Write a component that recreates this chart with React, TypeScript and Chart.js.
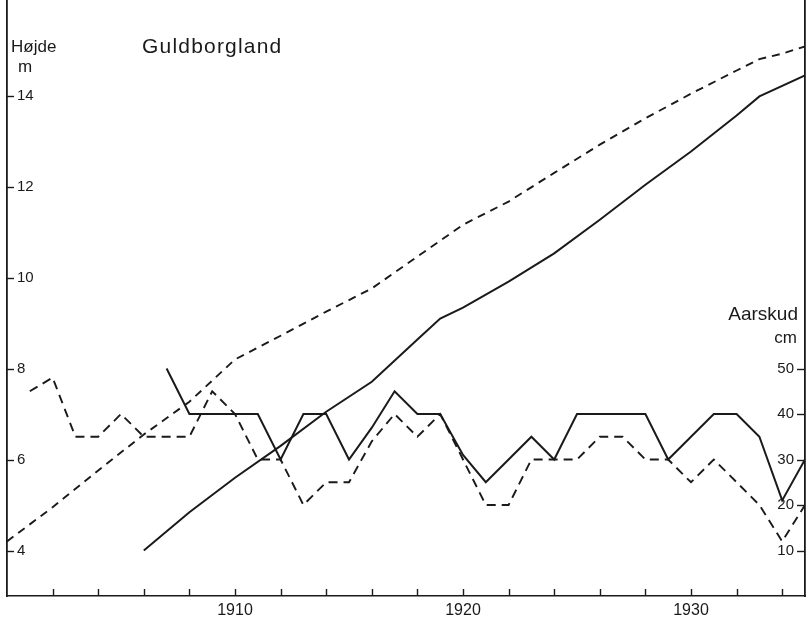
import React, { useEffect, useRef } from "react";
import { Chart, registerables } from "chart.js";

Chart.register(...registerables);

// ---- data ----
const heightDashedYears = [1900, 1902, 1904, 1906, 1908, 1910, 1912, 1914, 1916, 1918, 1920, 1922, 1924, 1926, 1928, 1930, 1932, 1933, 1934, 1935];
const heightDashedValues = [4.2, 4.95, 5.76, 6.55, 7.27, 8.2, 8.72, 9.25, 9.76, 10.46, 11.16, 11.67, 12.3, 12.92, 13.5, 14.04, 14.55, 14.8, 14.92, 15.08];

const heightSolidYears = [1906, 1908, 1910, 1912, 1914, 1916, 1918, 1919, 1920, 1922, 1924, 1926, 1928, 1930, 1932, 1933, 1935];
const heightSolidValues = [4.0, 4.84, 5.6, 6.3, 7.05, 7.71, 8.64, 9.1, 9.34, 9.91, 10.53, 11.27, 12.04, 12.77, 13.56, 13.98, 14.44];

const shootYears = [1901, 1902, 1903, 1904, 1905, 1906, 1907, 1908, 1909, 1910, 1911, 1912, 1913, 1914, 1915, 1916, 1917, 1918, 1919, 1920, 1921, 1922, 1923, 1924, 1925, 1926, 1927, 1928, 1929, 1930, 1931, 1932, 1933, 1934, 1935];
const shootDashed = [45, 48, 35, 35, 40, 35, 35, 35, 45, 40, 30, 30, 20, 25, 25, 34, 40, 35, 40, 30, 20, 20, 30, 30, 30, 35, 35, 30, 30, 25, 30, 25, 20, 12, 20];
const shootSolid = [null, null, null, null, null, null, 50, 40, 40, 40, 40, 30, 40, 40, 30, 37, 45, 40, 40, 31, 25, 30, 35, 30, 40, 40, 40, 40, 30, 35, 40, 40, 35, 21, 30];

const xTickYears = [1902, 1904, 1906, 1908, 1910, 1912, 1914, 1916, 1918, 1920, 1922, 1924, 1926, 1928, 1930, 1932, 1934];
const xLabelYears = [1910, 1920, 1930];
const heightTicks = [4, 6, 8, 10, 12, 14];
const shootTicks = [10, 20, 30, 40, 50];

const INK = "#1a1a1a";
const FONT = "'Liberation Sans', Arial, sans-serif";

const tickMarks = {
  id: "tickMarks",
  afterDraw(chart: any) {
    const { ctx, chartArea, scales } = chart;
    ctx.save();
    ctx.strokeStyle = INK;
    ctx.lineWidth = 1.4;
    const line = (x1: number, y1: number, x2: number, y2: number) => {
      ctx.beginPath();
      ctx.moveTo(x1, y1);
      ctx.lineTo(x2, y2);
      ctx.stroke();
    };
    scales.x.ticks.forEach((t: any) => {
      const px = Math.round(scales.x.getPixelForValue(t.value)) + 0.5;
      line(px, chartArea.bottom, px, chartArea.bottom - 7);
    });
    scales.yH.ticks.forEach((t: any) => {
      const py = Math.round(scales.yH.getPixelForValue(t.value)) + 0.5;
      line(chartArea.left, py, chartArea.left + 7, py);
    });
    scales.yS.ticks.forEach((t: any) => {
      const py = Math.round(scales.yS.getPixelForValue(t.value)) + 0.5;
      line(chartArea.right - 8, py, chartArea.right, py);
    });
    ctx.restore();
  },
};

export default function App() {
  const ref = useRef<HTMLCanvasElement | null>(null);

  useEffect(() => {
    if (!ref.current) return;
    const chart = new Chart(ref.current, {
      type: "line",
      data: {
        datasets: [
          {
            label: "Højde (stiplet)",
            data: heightDashedYears.map((x, i) => ({ x, y: heightDashedValues[i] })),
            yAxisID: "yH",
            borderColor: INK,
            borderWidth: 1.9,
            borderDash: [8, 6],
            pointRadius: 0,
            tension: 0,
          },
          {
            label: "Højde",
            data: heightSolidYears.map((x, i) => ({ x, y: heightSolidValues[i] })),
            yAxisID: "yH",
            borderColor: INK,
            borderWidth: 2,
            pointRadius: 0,
            tension: 0,
          },
          {
            label: "Aarskud (stiplet)",
            data: shootYears.map((x, i) => ({ x, y: shootDashed[i] })),
            yAxisID: "yS",
            borderColor: INK,
            borderWidth: 1.9,
            borderDash: [9, 6],
            pointRadius: 0,
            tension: 0,
          },
          {
            label: "Aarskud",
            data: shootYears.map((x, i) => ({ x, y: shootSolid[i] })),
            yAxisID: "yS",
            borderColor: INK,
            borderWidth: 2,
            pointRadius: 0,
            tension: 0,
          },
        ],
      } as any,
      options: {
        animation: false,
        responsive: false,
        layout: { padding: 0 },
        plugins: { legend: { display: false }, tooltip: { enabled: false } },
        scales: {
          x: {
            type: "linear",
            min: 1900,
            max: 1935,
            afterBuildTicks: (axis: any) => {
              axis.ticks = xTickYears.map((v) => ({ value: v }));
            },
            afterFit: (s: any) => {
              s.height = 26;
              s.paddingLeft = 0;
              s.paddingRight = 0;
            },
            grid: { display: true, drawOnChartArea: false, drawTicks: false },
            border: { display: true, color: INK, width: 1.6 },
            ticks: {
              autoSkip: false,
              maxRotation: 0,
              padding: 5,
              color: INK,
              font: { family: FONT, size: 16 },
              callback: (v: any) => (xLabelYears.includes(Number(v)) ? String(v) : ""),
            },
          },
          yH: {
            type: "linear",
            position: "left",
            min: 3,
            max: 16.1,
            afterBuildTicks: (axis: any) => {
              axis.ticks = heightTicks.map((v) => ({ value: v }));
            },
            afterFit: (s: any) => {
              s.width = 7;
              s.paddingTop = 0;
              s.paddingBottom = 0;
            },
            grid: { display: true, drawOnChartArea: false, drawTicks: false },
            border: { display: true, color: INK, width: 1.8 },
            ticks: {
              mirror: true,
              padding: 10,
              color: INK,
              font: { family: FONT, size: 15 },
            },
          },
          yS: {
            type: "linear",
            position: "right",
            min: 0,
            max: 131,
            afterBuildTicks: (axis: any) => {
              axis.ticks = shootTicks.map((v) => ({ value: v }));
            },
            afterFit: (s: any) => {
              s.width = 1;
              s.paddingTop = 0;
              s.paddingBottom = 0;
            },
            grid: { display: true, drawOnChartArea: false, drawTicks: false },
            border: { display: true, color: INK, width: 1.8 },
            ticks: {
              mirror: true,
              padding: -11,
              color: INK,
              font: { family: FONT, size: 15 },
            },
          },
        },
      } as any,
      plugins: [tickMarks],
    });
    return () => chart.destroy();
  }, []);

  const txt = (extra: React.CSSProperties): React.CSSProperties => ({
    position: "absolute",
    fontFamily: FONT,
    color: INK,
    lineHeight: 1,
    whiteSpace: "nowrap",
    ...extra,
  });

  return (
    <div style={{ position: "absolute", left: 0, top: 0, width: 806, height: 622, background: "#ffffff" }}>
      <canvas ref={ref} width={806} height={622} style={{ position: "absolute", left: 0, top: 0, width: 806, height: 622 }} />
      <div style={txt({ left: 11, top: 38, fontSize: 17 })}>Højde</div>
      <div style={txt({ left: 18, top: 58, fontSize: 17 })}>m</div>
      <div style={txt({ left: 142, top: 35, fontSize: 21, letterSpacing: "1.2px" })}>Guldborgland</div>
      <div style={txt({ right: 8, top: 304, fontSize: 19 })}>Aarskud</div>
      <div style={txt({ right: 9, top: 329, fontSize: 17 })}>cm</div>
    </div>
  );
}
